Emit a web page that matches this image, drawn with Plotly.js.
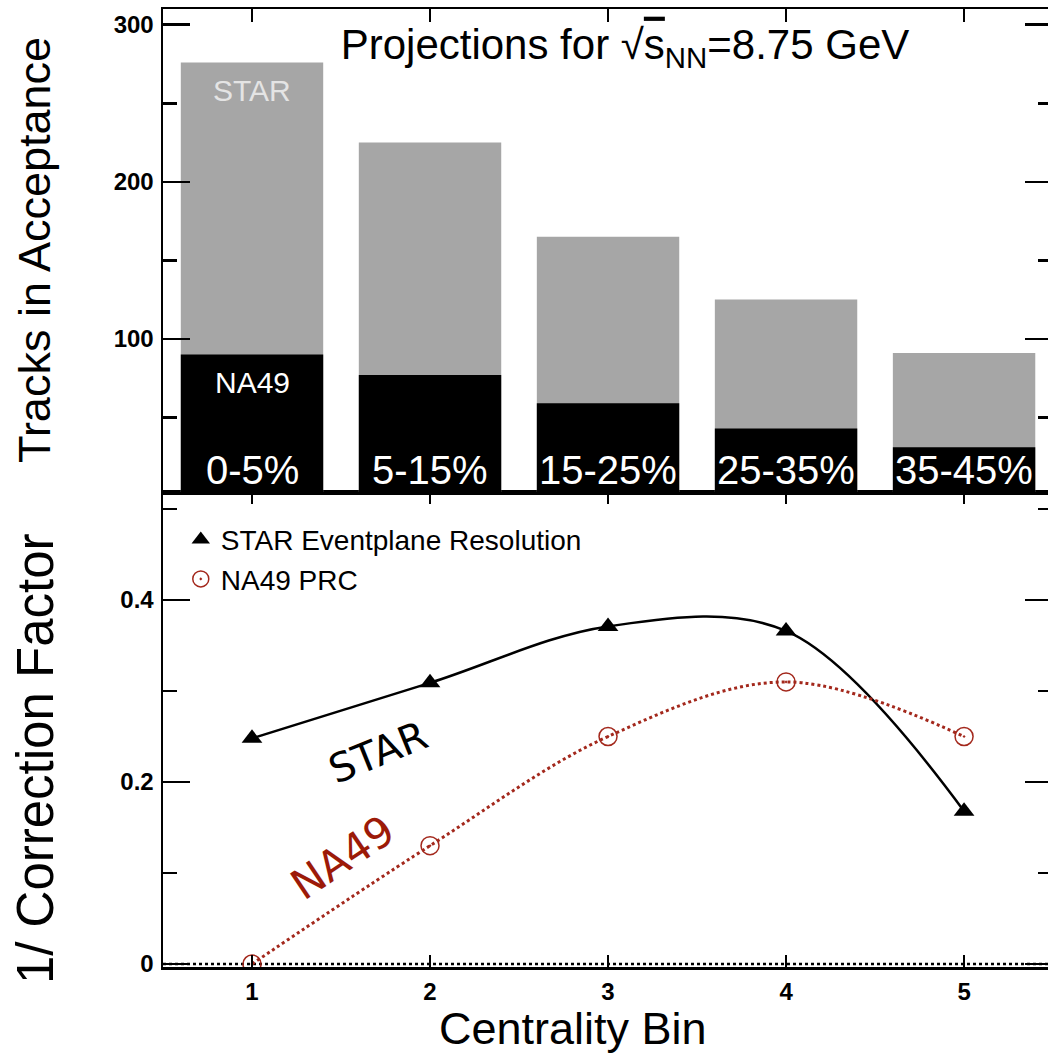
<!DOCTYPE html>
<html>
<head>
<meta charset="utf-8">
<script src="https://cdn.plot.ly/plotly-3.0.1.min.js"></script>
<style>
html, body { margin: 0; padding: 0; overflow: hidden; background: #ffffff; }
#chart { width: 1056px; height: 1057px; }
</style>
</head>
<body>
<div id="chart"></div>
<script>
// ---- data ----
const centralityBins = [1, 2, 3, 4, 5];
const centralityLabels = ['0-5%', '5-15%', '15-25%', '25-35%', '35-45%'];
const starTracks = [276, 225, 165, 125, 91];
const na49Tracks = [90, 77, 59, 43, 31];
const starResolution = [0.248, 0.309, 0.371, 0.366, 0.168];
const na49PRC = [0.0, 0.130, 0.250, 0.310, 0.250];
const yTicksTop = [100, 200, 300];
const yTicksBottom = [0, 0.2, 0.4];

// ---- styles ----
const SANS = 'Liberation Sans, Arial, sans-serif';
const DEJA = 'DejaVu Sans, sans-serif';
const NA49_RED = '#a3281c';
const NA49_TEXT = '#9c1a08';
const STAR_GRAY = '#a6a6a6';

const traces = [
  { type: 'bar', x: centralityBins, y: starTracks, xaxis: 'x2', yaxis: 'y2', width: 0.8,
    marker: { color: STAR_GRAY, line: { width: 0 } }, showlegend: false, hoverinfo: 'skip' },
  { type: 'bar', x: centralityBins, y: na49Tracks, xaxis: 'x2', yaxis: 'y2', width: 0.8,
    marker: { color: '#000000', line: { width: 0 } }, showlegend: false, hoverinfo: 'skip' },
  { type: 'scatter', mode: 'lines', x: centralityBins, y: starResolution, xaxis: 'x', yaxis: 'y',
    line: { color: '#000000', width: 2.5, shape: 'spline', smoothing: 1 }, showlegend: false },
  { type: 'scatter', mode: 'lines', x: centralityBins, y: na49PRC, xaxis: 'x', yaxis: 'y',
    line: { color: NA49_RED, width: 3, dash: 'dot', shape: 'spline', smoothing: 1 }, showlegend: false },
  { type: 'scatter', mode: 'markers', name: 'STAR Eventplane Resolution', x: centralityBins, y: starResolution,
    xaxis: 'x', yaxis: 'y', marker: { symbol: 'triangle-up', size: 18, color: '#000000' } },
  { type: 'scatter', mode: 'markers', name: 'NA49 PRC', x: centralityBins, y: na49PRC,
    xaxis: 'x', yaxis: 'y', marker: { symbol: 'circle-open-dot', size: 18, color: NA49_RED, line: { width: 1.5, color: NA49_RED } } }
];

const tickFont = { family: SANS, size: 24, color: '#000000', weight: 'bold' };

const annotations = [];
centralityBins.forEach((b, i) => {
  annotations.push({ xref: 'x2', yref: 'y2', x: b, y: 2.5, yanchor: 'bottom', xanchor: 'center',
    text: centralityLabels[i], showarrow: false, font: { family: SANS, size: 40, color: '#ffffff' }, yshift: -2 });
});
annotations.push({ xref: 'x2', yref: 'y2', x: centralityBins[0], y: 258, text: 'STAR', showarrow: false,
  font: { family: SANS, size: 30, color: '#e4e4e4' } });
annotations.push({ xref: 'x2', yref: 'y2', x: centralityBins[0], y: 72, text: 'NA49', showarrow: false,
  font: { family: SANS, size: 30, color: '#ffffff' } });
annotations.push({ xref: 'x', yref: 'y', x: 1.71, y: 0.233, text: 'STAR', showarrow: false, textangle: -22,
  font: { family: DEJA, size: 40, color: '#000000' } });
annotations.push({ xref: 'x', yref: 'y', x: 1.51, y: 0.117, text: 'NA49', showarrow: false, textangle: -34,
  font: { family: DEJA, size: 42, color: NA49_TEXT } });
annotations.push({ xref: 'paper', yref: 'paper', x: 0, xshift: -128, y: 0.7485, xanchor: 'center', yanchor: 'middle',
  text: 'Tracks in Acceptance', textangle: -90, showarrow: false, font: { family: SANS, size: 45, color: '#000000' } });
annotations.push({ xref: 'paper', yref: 'paper', x: 0, xshift: -128, y: 0.217, xanchor: 'center', yanchor: 'middle',
  text: '1/ Correction Factor', textangle: -90, showarrow: false, font: { family: SANS, size: 51, color: '#000000' } });
annotations.push({ xref: 'paper', yref: 'paper', x: (573 - 163) / 889, y: 0, yshift: -61, xanchor: 'center', yanchor: 'middle',
  text: 'Centrality Bin', showarrow: false, font: { family: SANS, size: 45, color: '#000000' } });

const layout = {
  width: 1056, height: 1057,
  margin: { l: 163, r: 4, t: 9, b: 90 },
  paper_bgcolor: '#ffffff', plot_bgcolor: '#ffffff',
  barmode: 'overlay',
  showlegend: true,
  title: { text: 'Projections for √<span style="text-decoration:overline">s</span><sub>NN</sub>=8.75 GeV',
    font: { family: SANS, size: 42, color: '#000000' }, xref: 'container', yref: 'container',
    x: 625 / 1056, xanchor: 'center', y: 1 - 44 / 1057, yanchor: 'middle' },
  legend: { x: 0.02, y: 0.472, xanchor: 'left', yanchor: 'top', bgcolor: 'rgba(0,0,0,0)',
    font: { family: SANS, size: 28, color: '#000000' }, tracegroupgap: 0, itemwidth: 30 },
  xaxis: { domain: [0, 1], anchor: 'y', range: [0.5, 5.494], tickvals: centralityBins,
    ticks: 'inside', ticklen: 12, tickwidth: 2.5, tickcolor: '#000', showline: true, linewidth: 2.5, linecolor: '#000',
    mirror: 'ticks', showgrid: false, zeroline: false, tickfont: tickFont, ticklabelstandoff: 2 },
  yaxis: { domain: [0, 0.4958], anchor: 'x', range: [-0.0033, 0.5187], tickvals: yTicksBottom, ticktext: ['0', '0.2', '0.4'],
    ticks: 'inside', ticklen: 27, tickwidth: 2.5, tickcolor: '#000', showline: true, linewidth: 2.5, linecolor: '#000',
    mirror: 'ticks', showgrid: false, zeroline: false, tickfont: tickFont, ticklabelstandoff: 2,
    minor: { dtick: 0.1, tick0: 0, ticks: 'inside', ticklen: 14, tickwidth: 2.5, tickcolor: '#000', showgrid: false } },
  xaxis2: { domain: [0, 1], anchor: 'y2', matches: 'x', range: [0.5, 5.494], tickvals: centralityBins,
    ticks: 'inside', ticklen: 13, tickwidth: 2.5, tickcolor: '#000', showline: true, linewidth: 2.5, linecolor: '#000',
    mirror: 'ticks', showgrid: false, zeroline: false, showticklabels: false },
  yaxis2: { domain: [0.4958, 1], anchor: 'x2', range: [2.5, 310], tickvals: yTicksTop,
    ticks: 'inside', ticklen: 27, tickwidth: 2.5, tickcolor: '#000', showline: true, linewidth: 2.5, linecolor: '#000',
    mirror: 'ticks', showgrid: false, zeroline: false, tickfont: tickFont, ticklabelstandoff: 2,
    minor: { dtick: 50, tick0: 0, ticks: 'inside', ticklen: 14, tickwidth: 2.5, tickcolor: '#000', showgrid: false } },
  shapes: [
    { type: 'line', xref: 'paper', yref: 'y', x0: 0, x1: 1, y0: 0, y1: 0,
      line: { color: '#000', width: 2.5, dash: 'dot' }, layer: 'below' }
  ],
  annotations: annotations
};

Plotly.newPlot('chart', traces, layout, { displayModeBar: false, staticPlot: true });
</script>
</body>
</html>
